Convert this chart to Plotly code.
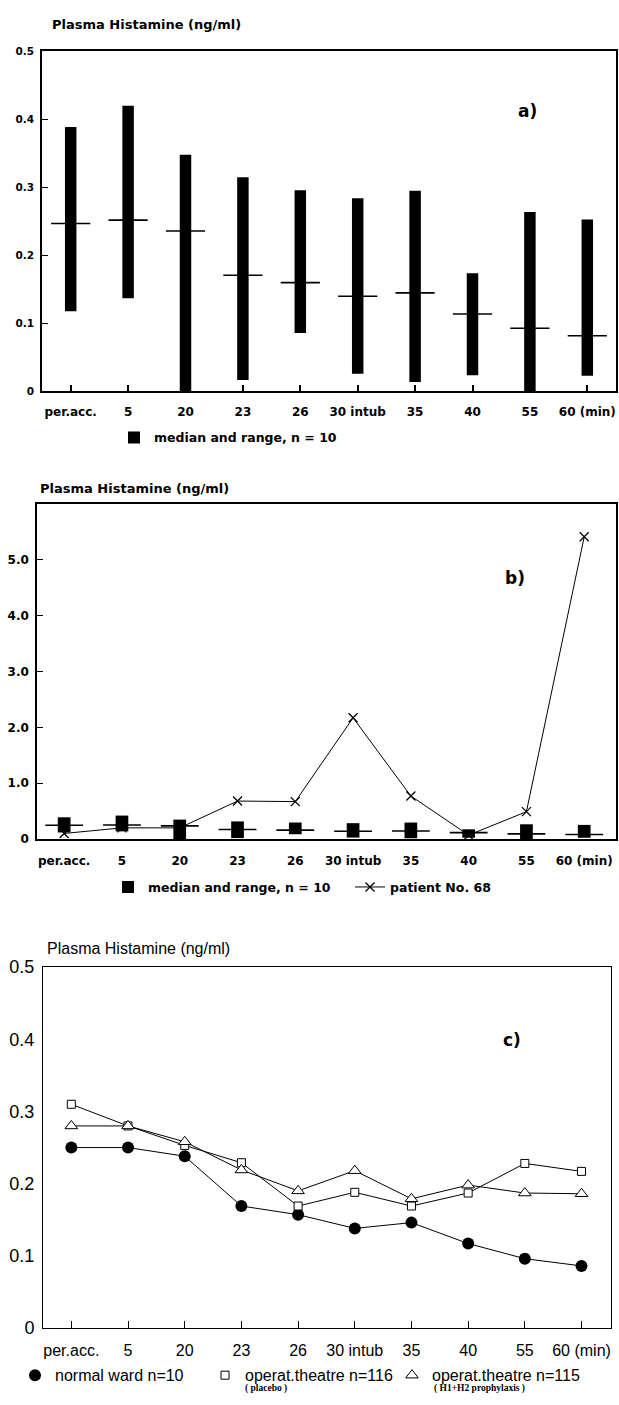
import plotly.graph_objects as go

categories = ["per.acc.", "5", "20", "23", "26", "30 intub", "35", "40", "55", "60 (min)"]

# median and range, n = 10 (panels a and b)
range_low = [0.118, 0.137, 0.0, 0.017, 0.086, 0.026, 0.014, 0.024, 0.0, 0.023]
range_high = [0.389, 0.420, 0.348, 0.315, 0.296, 0.284, 0.295, 0.174, 0.264, 0.253]
median = [0.247, 0.252, 0.236, 0.171, 0.160, 0.140, 0.145, 0.114, 0.093, 0.082]

# patient No. 68 (panel b)
patient68 = [0.10, 0.20, 0.20, 0.68, 0.67, 2.17, 0.77, 0.07, 0.49, 5.41]

# panel c
normal_ward = [0.25, 0.25, 0.238, 0.169, 0.157, 0.138, 0.146, 0.117, 0.096, 0.086]
placebo = [0.31, 0.28, 0.253, 0.229, 0.169, 0.188, 0.169, 0.187, 0.228, 0.217]
prophylaxis = [0.28, 0.28, 0.258, 0.219, 0.19, 0.218, 0.179, 0.198, 0.187, 0.186]

y_ticks_a = [0, 0.1, 0.2, 0.3, 0.4, 0.5]
y_text_a = ["0", "0.1", "0.2", "0.3", "0.4", "0.5"]
y_ticks_b = [0, 1, 2, 3, 4, 5]
y_text_b = ["0", "1.0", "2.0", "3.0", "4.0", "5.0"]

BOLD = "DejaVu Sans"
REG = "Liberation Sans, Arial, sans-serif"
SERIF = "Liberation Serif, serif"

spans = [h - l for h, l in zip(range_high, range_low)]

fig = go.Figure()

# ---- panel a ----
fig.add_trace(go.Bar(x=categories, y=spans, base=range_low, width=0.2,
                     marker=dict(color="black", line=dict(width=0)),
                     name="median and range, n = 10", xaxis="x", yaxis="y",
                     legend="legend", hoverinfo="skip"))
fig.add_trace(go.Scatter(x=categories, y=median, mode="markers",
                         marker=dict(symbol="line-ew", size=28,
                                     line=dict(width=1.6, color="black")),
                         showlegend=False, xaxis="x", yaxis="y"))

# ---- panel b ----
fig.add_trace(go.Bar(x=categories, y=spans, base=range_low, width=0.22,
                     marker=dict(color="black", line=dict(width=0)),
                     name="median and range, n = 10", xaxis="x2", yaxis="y2",
                     legend="legend2", hoverinfo="skip"))
fig.add_trace(go.Scatter(x=categories, y=median, mode="markers",
                         marker=dict(symbol="line-ew", size=27,
                                     line=dict(width=1.6, color="black")),
                         showlegend=False, xaxis="x2", yaxis="y2"))
fig.add_trace(go.Scatter(x=categories, y=patient68, mode="lines+markers",
                         line=dict(color="black", width=1),
                         marker=dict(symbol="x-thin-open", size=9,
                                     line=dict(width=1.3, color="black"), color="black"),
                         name="patient No. 68", xaxis="x2", yaxis="y2",
                         legend="legend3"))

# ---- panel c ----
for vals in (normal_ward, placebo, prophylaxis):
    fig.add_trace(go.Scatter(x=categories, y=vals, mode="lines",
                             line=dict(color="black", width=1),
                             showlegend=False, xaxis="x3", yaxis="y3", hoverinfo="skip"))
fig.add_trace(go.Scatter(x=categories, y=normal_ward, mode="markers",
                         marker=dict(symbol="circle", size=12, color="black"),
                         name="normal ward n=10", xaxis="x3", yaxis="y3",
                         legend="legend4"))
fig.add_trace(go.Scatter(x=categories, y=placebo, mode="markers",
                         marker=dict(symbol="square", size=8, color="white",
                                     line=dict(width=1, color="black")),
                         name="operat.theatre n=116", xaxis="x3", yaxis="y3",
                         legend="legend5"))
fig.add_trace(go.Scatter(x=categories, y=prophylaxis, mode="markers",
                         marker=dict(symbol="triangle-up", size=11, color="white",
                                     line=dict(width=1, color="black")),
                         name="operat.theatre n=115", xaxis="x3", yaxis="y3",
                         legend="legend6"))

H = 1405.0
W = 619.0


def ydom(top, bottom):
    return [1 - bottom / H, 1 - top / H]


def py(v):
    return 1 - v / H


common = dict(showgrid=False, zeroline=False, showline=True, linecolor="black",
              mirror=True)


def leg(x, y, font, yanchor="middle"):
    return dict(x=x / W, y=py(y), xanchor="left", yanchor=yanchor, orientation="h",
                bgcolor="rgba(0,0,0,0)", itemwidth=30, font=font)


bold_leg = dict(family=BOLD, size=12.5, color="black", weight="bold")
reg_leg = dict(family=REG, size=16, color="black")


def ann(text, x, y, font, xanchor="left"):
    return dict(text=text, x=x / W, y=py(y), xref="paper", yref="paper",
                xanchor=xanchor, yanchor="middle", showarrow=False, font=font)


fig.update_layout(
    width=619, height=1405, margin=dict(l=0, r=0, t=0, b=0), autosize=False,
    paper_bgcolor="white", plot_bgcolor="white",
    xaxis=dict(domain=[42 / W, 616 / W], anchor="y", type="category", range=[-0.5, 9.5],
               ticks="inside", ticklen=7, tickwidth=1.5, tickcolor="black", linewidth=1.5,
               ticklabelstandoff=8,
               tickfont=dict(family=BOLD, size=12, color="black", weight="bold"), **common),
    yaxis=dict(domain=ydom(42, 387), anchor="x", range=[0, 0.5], tickvals=y_ticks_a,
               ticktext=y_text_a, ticks="inside", ticklen=6, tickwidth=1.2, tickcolor="black",
               linewidth=1.5, ticklabelstandoff=4,
               tickfont=dict(family=BOLD, size=10.5, color="black", weight="bold"), **common),
    xaxis2=dict(domain=[37 / W, 616 / W], anchor="y2", type="category", range=[-0.47, 9.55],
                ticks="", linewidth=1.5, ticklabelstandoff=10,
                tickfont=dict(family=BOLD, size=12, color="black", weight="bold"), **common),
    yaxis2=dict(domain=ydom(501, 841), anchor="x2", range=[0, 6.0], tickvals=y_ticks_b,
                ticktext=y_text_b, ticks="inside", ticklen=6, tickwidth=1.2, tickcolor="black",
                linewidth=1.5, ticklabelstandoff=4,
                tickfont=dict(family=BOLD, size=12, color="black", weight="bold"), **common),
    xaxis3=dict(domain=[43 / W, 611 / W], anchor="y3", type="category", range=[-0.5, 9.52],
                ticks="inside", ticklen=7, tickwidth=1, tickcolor="black", linewidth=1,
                ticklabelstandoff=8,
                tickfont=dict(family=REG, size=16, color="black"), **common),
    yaxis3=dict(domain=ydom(971, 1337), anchor="x3", range=[0, 0.5], tickvals=y_ticks_a,
                ticktext=y_text_a, ticks="", linewidth=1, ticklabelstandoff=4,
                tickfont=dict(family=REG, size=18, color="black"), **common),
    legend=leg(114, 434, bold_leg),
    legend2=leg(108, 890, bold_leg),
    legend3=leg(350, 890, bold_leg),
    legend4=leg(15, 1385, reg_leg),
    legend5=leg(205, 1385, reg_leg),
    legend6=leg(392, 1385, reg_leg),
    annotations=[
        ann("Plasma Histamine (ng/ml)", 50, 15,
            dict(family=BOLD, size=13, color="black", weight="bold")),
        ann("a)", 527, 102, dict(family=BOLD, size=17, color="black", weight="bold"), "center"),
        ann("Plasma Histamine (ng/ml)", 38, 485,
            dict(family=BOLD, size=13, color="black", weight="bold")),
        ann("b)", 515, 576, dict(family=BOLD, size=17, color="black", weight="bold"), "center"),
        ann("Plasma Histamine (ng/ml)", 45, 952, dict(family=REG, size=16, color="black")),
        ann("c)", 512, 1045, dict(family=BOLD, size=17, color="black", weight="bold"), "center"),
        ann("( placebo )", 243, 1398,
            dict(family=SERIF, size=9.5, color="black", weight="bold")),
        ann("( H1+H2 prophylaxis )", 432, 1398,
            dict(family=SERIF, size=9.5, color="black", weight="bold")),
    ],
)

fig.write_html("out.html")
